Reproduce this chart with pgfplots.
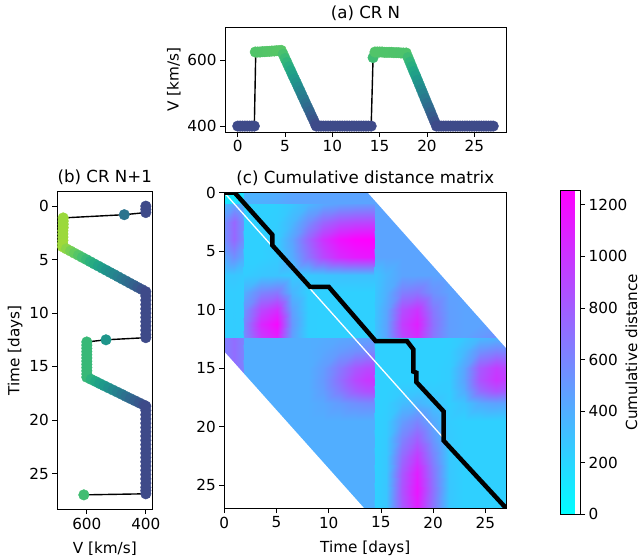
\documentclass[border=0pt]{standalone}
\usepackage{fontspec}
\setmainfont{DejaVu Sans}
\usepackage{pgfplots}
\pgfplotsset{compat=1.18}
\pgfplotsset{
  colormap={cool}{rgb=(0,1,1) rgb=(1,0,1)},
  mpl/.style={
    scale only axis,
    axis line style={line width=0.8bp},
    tick align=outside,
    major tick length=4.9bp,
    tick style={line width=0.8bp, black},
    xtick pos=bottom, ytick pos=left,
    /pgf/number format/assume math mode=true,
    /pgf/number format/set thousands separator={},
    tick label style={font=\fontsize{15.3}{18}\selectfont},
    label style={font=\fontsize{15.3}{18}\selectfont},
    xlabel style={yshift=-6bp},
    title style={font=\fontsize{16.7}{20}\selectfont, at={(0.5,1)}, anchor=base, yshift=3bp},
  }
}
\begin{document}
\begin{tikzpicture}
\path[use as bounding box] (0,0) rectangle (640bp,558bp);

% ---------- (a) CR N ----------
\begin{axis}[mpl,
  at={(225bp,426bp)}, anchor=south west,
  width=281bp, height=105bp,
  xmin=-1.35, xmax=28.35, ymin=382, ymax=701,
  xtick={0,5,...,25}, ytick={400,600},
  title={(a) CR N}, ylabel={V [km/s]},
  colormap/viridis, point meta min=302, point meta max=746]
\addplot[scatter, only marks, mark=*, mark size=5.3bp, point meta=y,
  scatter/use mapped color={draw=mapped color, fill=mapped color}]
 coordinates {(0,400) (0.25,400) (0.5,400) (0.75,400) (1,400) (1.25,400) (1.5,400) (1.75,400)
 (1.85,625) (2.1,625) (2.35,625) (2.6,626) (2.85,626) (3.1,627) (3.35,627) (3.6,628) (3.85,628) (4.1,629) (4.35,629) (4.6,630)
 (4.8,618) (5,605) (5.2,593) (5.4,580) (5.6,568) (5.8,555) (6,543) (6.2,531) (6.4,518) (6.6,506) (6.8,493) (7,481) (7.2,468) (7.4,456) (7.6,444) (7.8,431) (8,419) (8.2,406) (8.3,400)
 (8.55,400) (8.8,400) (9.05,400) (9.3,400) (9.55,400) (9.8,400) (10.05,400) (10.3,400) (10.55,400) (10.8,400) (11.05,400) (11.3,400) (11.55,400) (11.8,400) (12.05,400) (12.3,400) (12.55,400) (12.8,400) (13.05,400) (13.3,400) (13.55,400) (13.8,400) (14.1,400)
 (14.3,608) (14.5,625) (14.75,625) (15,625) (15.25,625) (15.5,624) (15.75,624) (16,624) (16.25,624) (16.5,623) (16.75,623) (17,623) (17.25,622) (17.5,622) (17.8,622)
 (18,608) (18.2,594) (18.4,580) (18.6,566) (18.8,553) (19,539) (19.2,525) (19.4,511) (19.6,497) (19.8,483) (20,469) (20.2,456) (20.4,442) (20.6,428) (20.8,414) (21,400)
 (21.25,400) (21.5,400) (21.75,400) (22,400) (22.25,400) (22.5,400) (22.75,400) (23,400) (23.25,400) (23.5,400) (23.75,400) (24,400) (24.25,400) (24.5,400) (24.75,400) (25,400) (25.25,400) (25.5,400) (25.75,400) (26,400) (26.25,400) (26.5,400) (26.75,400) (27,400)};
\addplot[black, line width=1.4bp]
 coordinates {(0,400) (1.75,400) (1.9,625) (4.6,630) (8.3,400) (14.1,400) (14.3,608) (14.5,625) (17.8,622) (21,400) (27,400)};
\end{axis}

% ---------- (b) CR N+1 ----------
\begin{axis}[mpl,
  at={(57.3bp,48.7bp)}, anchor=south west,
  width=95bp, height=317.6bp,
  x dir=reverse, y dir=reverse,
  xmin=378, xmax=700, ymin=-1.35, ymax=28.35,
  xtick={400,600}, ytick={0,5,...,25},
  title={(b) CR N+1}, xlabel={V [km/s]}, ylabel={Time [days]},
  colormap/viridis, point meta min=302, point meta max=746]
\addplot[scatter, only marks, mark=*, mark size=5.3bp, point meta=x,
  scatter/use mapped color={draw=mapped color, fill=mapped color}]
 coordinates {(400,0) (400,0.3) (400,0.6) (473,0.8)
 (680,1.1) (680,1.4) (680,1.7) (680,2) (681,2.3) (681,2.6) (681,2.9) (681,3.2) (682,3.5) (682,3.8)
 (669,4) (655,4.2) (642,4.4) (628,4.6) (615,4.8) (601,5) (588,5.2) (575,5.4) (561,5.6) (548,5.8) (534,6) (521,6.2) (507,6.4) (494,6.6) (481,6.8) (467,7) (454,7.2) (440,7.4) (427,7.6) (413,7.8) (400,8)
 (400,8.4) (400,8.8) (400,9.2) (400,9.6) (400,10) (400,10.4) (400,10.8) (400,11.2) (400,11.6) (400,12) (400,12.3)
 (535,12.5) (600,12.7) (600,13) (600,13.3) (600,13.6) (600,13.9) (600,14.2) (600,14.5) (600,14.8) (600,15.1) (600,15.4) (600,15.7) (600,16)
 (585,16.2) (570,16.4) (556,16.6) (541,16.8) (526,17) (511,17.2) (496,17.4) (481,17.6) (467,17.8) (452,18) (437,18.2) (422,18.4) (407,18.6) (400,18.7)
 (400,19.1) (400,19.5) (400,19.9) (400,20.3) (400,20.7) (400,21.1) (400,21.5) (400,21.9) (400,22.3) (400,22.7) (400,23.1) (400,23.5) (400,23.9) (400,24.3) (400,24.7) (400,25.1) (400,25.5) (400,25.9) (400,26.3) (400,26.6) (400,26.9)
 (610,27)};
\addplot[black, line width=1.4bp]
 coordinates {(400,0) (400,0.6) (473,0.8) (680,1.1) (682,3.8) (400,8) (400,12.3) (535,12.5) (600,12.7) (600,16) (400,18.7) (400,26.9) (610,27)};
\end{axis}

% ---------- (c) Cumulative distance matrix ----------
\begin{axis}[mpl,
  at={(224.3bp,49.7bp)}, anchor=south west,
  width=281.9bp, height=315.6bp,
  y dir=reverse, enlargelimits=false, axis on top,
  xmin=0, xmax=27, ymin=0, ymax=27,
  xtick={0,5,...,25}, ytick={0,5,...,25},
  title={(c) Cumulative distance matrix}, xlabel={Time [days]},
  colormap name=cool, point meta min=0, point meta max=1257,
  colorbar,
  colorbar style={
    at={(parent axis.north east)}, anchor=north west, xshift=46.1bp, yshift=2.7bp,
    scale only axis, width=19.4bp, height=324.3bp,
    axis line style={line width=0.8bp},
    ytick={0,200,...,1200}, xtick=\empty,
    ytick pos=right, yticklabel pos=right,
    tick align=outside, major tick length=4.9bp,
    tick style={line width=0.8bp, black},
    /pgf/number format/assume math mode=true,
    /pgf/number format/set thousands separator={},
    yticklabel style={font=\fontsize{15.3}{18}\selectfont},
  }]
\addplot[surf, shader=interp, mesh/cols=23, point meta=explicit] coordinates {
(0,0)[50] (0.9,0)[100] (1.8,0)[150] (1.9,0)[380] (3.5,0)[380] (5,0)[400] (6.5,0)[440] (8,0)[450] (9.5,0)[450] (11,0)[450] (12.5,0)[450] (13.6,0)[450] (14.35,0)[450] (14.45,0)[450] (15.5,0)[450] (17,0)[450] (18.5,0)[450] (20,0)[450] (21.5,0)[450] (23,0)[450] (24.5,0)[450] (26,0)[450] (27,0)[450]
(0,0.9)[120] (0.9,0.9)[150] (1.8,0.9)[200] (1.9,0.9)[380] (3.5,0.9)[400] (5,0.9)[420] (6.5,0.9)[450] (8,0.9)[450] (9.5,0.9)[450] (11,0.9)[450] (12.5,0.9)[450] (13.6,0.9)[450] (14.35,0.9)[450] (14.45,0.9)[450] (15.5,0.9)[450] (17,0.9)[450] (18.5,0.9)[450] (20,0.9)[450] (21.5,0.9)[450] (23,0.9)[450] (24.5,0.9)[450] (26,0.9)[450] (27,0.9)[450]
(0,1)[350] (0.9,1)[450] (1.8,1)[350] (1.9,1)[230] (3.5,1)[230] (5,1)[235] (6.5,1)[280] (8,1)[360] (9.5,1)[430] (11,1)[470] (12.5,1)[490] (13.6,1)[500] (14.35,1)[500] (14.45,1)[450] (15.5,1)[450] (17,1)[450] (18.5,1)[450] (20,1)[450] (21.5,1)[450] (23,1)[450] (24.5,1)[450] (26,1)[450] (27,1)[450]
(0,2.5)[550] (0.9,2.5)[750] (1.8,2.5)[550] (1.9,2.5)[230] (3.5,2.5)[230] (5,2.5)[245] (6.5,2.5)[350] (8,2.5)[560] (9.5,2.5)[750] (11,2.5)[860] (12.5,2.5)[900] (13.6,2.5)[910] (14.35,2.5)[910] (14.45,2.5)[450] (15.5,2.5)[450] (17,2.5)[450] (18.5,2.5)[450] (20,2.5)[450] (21.5,2.5)[450] (23,2.5)[450] (24.5,2.5)[450] (26,2.5)[450] (27,2.5)[450]
(0,4)[550] (0.9,4)[750] (1.8,4)[550] (1.9,4)[230] (3.5,4)[232] (5,4)[260] (6.5,4)[450] (8,4)[760] (9.5,4)[1010] (11,4)[1170] (12.5,4)[1240] (13.6,4)[1255] (14.35,4)[1257] (14.45,4)[450] (15.5,4)[450] (17,4)[450] (18.5,4)[450] (20,4)[450] (21.5,4)[450] (23,4)[450] (24.5,4)[450] (26,4)[450] (27,4)[450]
(0,5.5)[420] (0.9,5.5)[550] (1.8,5.5)[420] (1.9,5.5)[230] (3.5,5.5)[232] (5,5.5)[255] (6.5,5.5)[410] (8,5.5)[680] (9.5,5.5)[900] (11,5.5)[1050] (12.5,5.5)[1120] (13.6,5.5)[1140] (14.35,5.5)[1140] (14.45,5.5)[450] (15.5,5.5)[450] (17,5.5)[450] (18.5,5.5)[450] (20,5.5)[450] (21.5,5.5)[450] (23,5.5)[450] (24.5,5.5)[450] (26,5.5)[450] (27,5.5)[450]
(0,7)[260] (0.9,7)[280] (1.8,7)[260] (1.9,7)[250] (3.5,7)[280] (5,7)[290] (6.5,7)[265] (8,7)[270] (9.5,7)[290] (11,7)[305] (12.5,7)[310] (13.6,7)[312] (14.35,7)[312] (14.45,7)[290] (15.5,7)[360] (17,7)[450] (18.5,7)[450] (20,7)[450] (21.5,7)[450] (23,7)[450] (24.5,7)[450] (26,7)[450] (27,7)[450]
(0,8.5)[240] (0.9,8.5)[250] (1.8,8.5)[240] (1.9,8.5)[400] (3.5,8.5)[600] (5,8.5)[660] (6.5,8.5)[360] (8,8.5)[236] (9.5,8.5)[230] (11,8.5)[230] (12.5,8.5)[230] (13.6,8.5)[230] (14.35,8.5)[230] (14.45,8.5)[287] (15.5,8.5)[385] (17,8.5)[625] (18.5,8.5)[675] (20,8.5)[537] (21.5,8.5)[461] (23,8.5)[450] (24.5,8.5)[450] (26,8.5)[450] (27,8.5)[450]
(0,10)[240] (0.9,10)[250] (1.8,10)[240] (1.9,10)[540] (3.5,10)[910] (5,10)[1040] (6.5,10)[470] (8,10)[240] (9.5,10)[230] (11,10)[230] (12.5,10)[230] (13.6,10)[230] (14.35,10)[230] (14.45,10)[297] (15.5,10)[435] (17,10)[875] (18.5,10)[1003] (20,10)[662] (21.5,10)[476] (23,10)[450] (24.5,10)[450] (26,10)[460] (27,10)[470]
(0,11.2)[240] (0.9,11.2)[250] (1.8,11.2)[240] (1.9,11.2)[600] (3.5,11.2)[1060] (5,11.2)[1210] (6.5,11.2)[510] (8,11.2)[240] (9.5,11.2)[230] (11,11.2)[230] (12.5,11.2)[230] (13.6,11.2)[230] (14.35,11.2)[230] (14.45,11.2)[300] (15.5,11.2)[450] (17,11.2)[950] (18.5,11.2)[1100] (20,11.2)[700] (21.5,11.2)[480] (23,11.2)[450] (24.5,11.2)[450] (26,11.2)[480] (27,11.2)[500]
(0,12.35)[240] (0.9,12.35)[250] (1.8,12.35)[240] (1.9,12.35)[563] (3.5,12.35)[968] (5,12.35)[1103] (6.5,12.35)[473] (8,12.35)[239] (9.5,12.35)[230] (11,12.35)[230] (12.5,12.35)[230] (13.6,12.35)[230] (14.35,12.35)[230] (14.45,12.35)[298] (15.5,12.35)[440] (17,12.35)[900] (18.5,12.35)[1035] (20,12.35)[670] (21.5,12.35)[477] (23,12.35)[450] (24.5,12.35)[500] (26,12.35)[550] (27,12.35)[550]
(0,12.45)[620] (0.9,12.45)[720] (1.8,12.45)[620] (1.9,12.45)[400] (3.5,12.45)[400] (5,12.45)[400] (6.5,12.45)[400] (8,12.45)[400] (9.5,12.45)[410] (11,12.45)[430] (12.5,12.45)[450] (13.6,12.45)[458] (14.35,12.45)[460] (14.45,12.45)[230] (15.5,12.45)[230] (17,12.45)[230] (18.5,12.45)[230] (20,12.45)[230] (21.5,12.45)[234] (23,12.45)[274] (24.5,12.45)[354] (26,12.45)[384] (27,12.45)[374]
(0,13.5)[620] (0.9,13.5)[720] (1.8,13.5)[620] (1.9,13.5)[400] (3.5,13.5)[400] (5,13.5)[400] (6.5,13.5)[400] (8,13.5)[400] (9.5,13.5)[430] (11,13.5)[490] (12.5,13.5)[550] (13.6,13.5)[574] (14.35,13.5)[580] (14.45,13.5)[230] (15.5,13.5)[230] (17,13.5)[230] (18.5,13.5)[230] (20,13.5)[230] (21.5,13.5)[240] (23,13.5)[340] (24.5,13.5)[540] (26,13.5)[615] (27,13.5)[590]
(0,15)[620] (0.9,15)[720] (1.8,15)[620] (1.9,15)[400] (3.5,15)[400] (5,15)[400] (6.5,15)[400] (8,15)[400] (9.5,15)[485] (11,15)[655] (12.5,15)[825] (13.6,15)[893] (14.35,15)[910] (14.45,15)[230] (15.5,15)[230] (17,15)[230] (18.5,15)[230] (20,15)[230] (21.5,15)[249] (23,15)[439] (24.5,15)[819] (26,15)[962] (27,15)[914]
(0,16)[620] (0.9,16)[720] (1.8,16)[620] (1.9,16)[400] (3.5,16)[400] (5,16)[400] (6.5,16)[400] (8,16)[400] (9.5,16)[500] (11,16)[700] (12.5,16)[900] (13.6,16)[980] (14.35,16)[1000] (14.45,16)[230] (15.5,16)[230] (17,16)[230] (18.5,16)[230] (20,16)[230] (21.5,16)[250] (23,16)[450] (24.5,16)[850] (26,16)[1000] (27,16)[950]
(0,17)[620] (0.9,17)[720] (1.8,17)[620] (1.9,17)[400] (3.5,17)[400] (5,17)[400] (6.5,17)[400] (8,17)[400] (9.5,17)[480] (11,17)[640] (12.5,17)[800] (13.6,17)[864] (14.35,17)[880] (14.45,17)[230] (15.5,17)[232] (17,17)[261] (18.5,17)[276] (20,17)[253] (21.5,17)[248] (23,17)[406] (24.5,17)[726] (26,17)[846] (27,17)[806]
(0,18)[620] (0.9,18)[720] (1.8,18)[620] (1.9,18)[400] (3.5,18)[400] (5,18)[400] (6.5,18)[400] (8,18)[400] (9.5,18)[430] (11,18)[490] (12.5,18)[550] (13.6,18)[574] (14.35,18)[580] (14.45,18)[230] (15.5,18)[237] (17,18)[323] (18.5,18)[368] (20,18)[300] (21.5,18)[243] (23,18)[296] (24.5,18)[416] (26,18)[461] (27,18)[446]
(0,19.5)[620] (0.9,19.5)[720] (1.8,19.5)[620] (1.9,19.5)[400] (3.5,19.5)[400] (5,19.5)[400] (6.5,19.5)[400] (8,19.5)[400] (9.5,19.5)[400] (11,19.5)[400] (12.5,19.5)[400] (13.6,19.5)[400] (14.35,19.5)[400] (14.45,19.5)[230] (15.5,19.5)[250] (17,19.5)[478] (18.5,19.5)[598] (20,19.5)[418] (21.5,19.5)[250] (23,19.5)[230] (24.5,19.5)[230] (26,19.5)[230] (27,19.5)[230]
(0,21)[620] (0.9,21)[720] (1.8,21)[620] (1.9,21)[400] (3.5,21)[400] (5,21)[400] (6.5,21)[400] (8,21)[400] (9.5,21)[400] (11,21)[400] (12.5,21)[400] (13.6,21)[400] (14.35,21)[400] (14.45,21)[230] (15.5,21)[260] (17,21)[602] (18.5,21)[782] (20,21)[512] (21.5,21)[260] (23,21)[230] (24.5,21)[230] (26,21)[230] (27,21)[230]
(0,22.5)[620] (0.9,22.5)[720] (1.8,22.5)[620] (1.9,22.5)[400] (3.5,22.5)[400] (5,22.5)[400] (6.5,22.5)[400] (8,22.5)[400] (9.5,22.5)[400] (11,22.5)[400] (12.5,22.5)[400] (13.6,22.5)[400] (14.35,22.5)[400] (14.45,22.5)[230] (15.5,22.5)[270] (17,22.5)[726] (18.5,22.5)[966] (20,22.5)[606] (21.5,22.5)[270] (23,22.5)[230] (24.5,22.5)[230] (26,22.5)[230] (27,22.5)[230]
(0,24)[620] (0.9,24)[720] (1.8,24)[620] (1.9,24)[400] (3.5,24)[400] (5,24)[400] (6.5,24)[400] (8,24)[400] (9.5,24)[400] (11,24)[400] (12.5,24)[400] (13.6,24)[400] (14.35,24)[400] (14.45,24)[230] (15.5,24)[277] (17,24)[819] (18.5,24)[1104] (20,24)[676] (21.5,24)[277] (23,24)[230] (24.5,24)[230] (26,24)[230] (27,24)[230]
(0,25.5)[620] (0.9,25.5)[720] (1.8,25.5)[620] (1.9,25.5)[400] (3.5,25.5)[400] (5,25.5)[400] (6.5,25.5)[400] (8,25.5)[400] (9.5,25.5)[400] (11,25.5)[400] (12.5,25.5)[400] (13.6,25.5)[400] (14.35,25.5)[400] (14.45,25.5)[230] (15.5,25.5)[280] (17,25.5)[850] (18.5,25.5)[1150] (20,25.5)[700] (21.5,25.5)[280] (23,25.5)[230] (24.5,25.5)[230] (26,25.5)[230] (27,25.5)[230]
(0,27)[620] (0.9,27)[720] (1.8,27)[620] (1.9,27)[400] (3.5,27)[400] (5,27)[400] (6.5,27)[400] (8,27)[400] (9.5,27)[400] (11,27)[400] (12.5,27)[400] (13.6,27)[400] (14.35,27)[400] (14.45,27)[230] (15.5,27)[277] (17,27)[819] (18.5,27)[1104] (20,27)[676] (21.5,27)[277] (23,27)[230] (24.5,27)[230] (26,27)[230] (27,27)[230]
};
\addplot[fill=white, draw=none, forget plot] coordinates {(13.75,0) (27,13.3) (27,0) (13.75,0)};
\addplot[fill=white, draw=none, forget plot] coordinates {(0,13.6) (13.4,27) (0,27) (0,13.6)};
\addplot[white, line width=1.3bp, forget plot] coordinates {(0,0) (27,27)};
\addplot[black, line width=4.5bp, forget plot] coordinates {(0,0) (1,0) (4.6,3.6) (4.6,4.5) (8.2,8.05) (10,8.05) (14.5,12.7) (17.5,12.7) (18.1,13.4) (18.1,15.3) (18.4,15.4) (18.4,16.2) (21,18.7) (21,21.2) (27,27)};
\end{axis}
\node[rotate=90, anchor=center, inner sep=0pt, font=\fontsize{15.3}{18}\selectfont] at (631.5bp,205.8bp) {Cumulative distance};
\end{tikzpicture}
\end{document}
